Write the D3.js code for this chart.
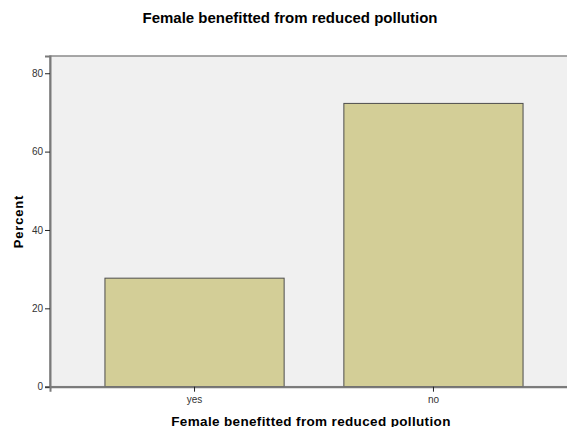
<!DOCTYPE html>
<html><head><meta charset="utf-8">
<script src="https://cdn.jsdelivr.net/npm/d3@7"></script>
<style>
html,body{margin:0;padding:0;background:#fff;}
svg{display:block;font-family:"Liberation Sans",Arial,sans-serif;}
</style></head>
<body>
<svg id="chart" width="567" height="427"></svg>
<script>
const categories = ["yes", "no"];
const percentValues = [27.7, 72.3];
const yTickValues = [0, 20, 40, 60, 80];
const chartTitle = "Female benefitted from reduced pollution";
const xAxisTitle = "Female benefitted from reduced pollution";
const yAxisTitle = "Percent";

(function () {
const svg = d3.select("#chart");
const pLeft = 50, pRight = 578, pTop = 56, pBottom = 386.7;

const x = d3.scaleBand().domain(categories).range([pLeft, pRight]).paddingInner(0.25).paddingOuter(0.23);
const y = d3.scaleLinear().domain([0, 84.4]).range([pBottom, pTop]);

// plot background
svg.append("rect").attr("x", pLeft).attr("y", pTop).attr("width", pRight - pLeft).attr("height", pBottom - pTop)
  .attr("fill", "#f0f0f0").attr("stroke", "#8a8a8a").attr("stroke-width", 1.5);

// bars
svg.append("g").selectAll("rect").data(categories).join("rect")
  .attr("x", d => x(d)).attr("width", x.bandwidth())
  .attr("y", (d, i) => y(percentValues[i]))
  .attr("height", (d, i) => y(0) - y(percentValues[i]))
  .attr("fill", "#d3ce97").attr("stroke", "#4d4d4d").attr("stroke-width", 1);

// y axis
const yAxis = svg.append("g").attr("transform", `translate(${pLeft},0)`)
  .call(d3.axisLeft(y).tickValues(yTickValues).tickSize(5).tickPadding(2));
yAxis.select(".domain").attr("stroke", "#7a7a7a").attr("stroke-width", 2);
yAxis.selectAll(".tick line").attr("stroke", "#222");
yAxis.selectAll(".tick text").attr("font-size", 10).attr("fill", "#333").attr("font-family", "Liberation Sans, Arial, sans-serif");

// x axis
const xAxis = svg.append("g").attr("transform", `translate(0,${pBottom})`)
  .call(d3.axisBottom(x).tickSize(5).tickPadding(4));
xAxis.select(".domain").attr("stroke", "#7a7a7a").attr("stroke-width", 2);
xAxis.selectAll(".tick line").attr("stroke", "#222");
xAxis.selectAll(".tick text").attr("font-size", 10).attr("fill", "#333").attr("font-family", "Liberation Sans, Arial, sans-serif");

// titles
svg.append("text").attr("x", 290).attr("y", 23).attr("text-anchor", "middle")
  .attr("font-size", 15).attr("font-weight", "bold").attr("fill", "#000").text(chartTitle);
svg.append("text").attr("x", 311).attr("y", 425.5).attr("text-anchor", "middle")
  .attr("font-size", 13.5).attr("font-weight", "bold").attr("letter-spacing", 0.35).attr("fill", "#000").text(xAxisTitle);
svg.append("text").attr("transform", "translate(22.5,221.5) rotate(-90)").attr("text-anchor", "middle")
  .attr("font-size", 13).attr("font-weight", "bold").attr("letter-spacing", 0.8).attr("fill", "#000").text(yAxisTitle);
})();
</script>
</body></html>
